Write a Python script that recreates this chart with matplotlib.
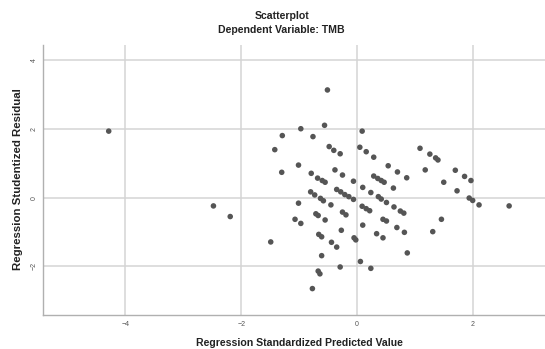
import matplotlib.pyplot as plt
import numpy as np

plt.rcParams['font.family'] = ['Liberation Sans', 'DejaVu Sans']

# standardized predicted value / studentized residual
pred = [
    -4.29, -2.48, -2.19, -1.49,
    -0.51, -0.56, -0.97, 0.09, -1.29, -0.76, -1.42, -0.48, -0.40, -0.29,
    0.05, 0.16, 0.29, 1.09, 1.26, 1.36, 1.40, 0.54, 0.70, 0.86, 1.18,
    1.70, 1.86, 1.97, 1.50, 1.73, 1.94, 2.00, 2.11, 2.63, 1.46, 1.31,
    -1.30, -1.01, -0.79, -0.68, -0.60, -0.55, -0.38, -0.25, -0.06, 0.10,
    0.29, 0.36, 0.42, 0.47, 0.63, 0.24, 0.37, 0.42, 0.51,
    -0.80, -0.73, -0.63, -0.58, -0.35, -0.28, -0.21, -0.14, -0.06,
    -1.01, -0.45, 0.09, 0.16, 0.22, 0.64, 0.75, 0.81,
    -0.71, -0.67, -0.25, -0.19, -0.55, -1.07, -0.97, 0.10, 0.45, 0.51,
    0.69, 0.82, 0.34, 0.45, 0.87, -0.27, -0.66, -0.61, -0.44, -0.35,
    -0.05, -0.02, -0.61, 0.06, -0.29, 0.24, -0.67, -0.64, -0.77,
]
resid = [
    1.94, -0.24, -0.55, -1.29,
    3.14, 2.11, 2.01, 1.94, 1.81, 1.78, 1.40, 1.49, 1.38, 1.28,
    1.47, 1.34, 1.18, 1.44, 1.27, 1.16, 1.10, 0.93, 0.75, 0.58, 0.81,
    0.80, 0.62, 0.50, 0.45, 0.20, -0.01, -0.08, -0.21, -0.24, -0.63, -0.99,
    0.74, 0.95, 0.71, 0.57, 0.50, 0.45, 0.81, 0.66, 0.48, 0.30,
    0.63, 0.56, 0.50, 0.45, 0.28, 0.15, 0.03, -0.04, -0.14,
    0.17, 0.08, -0.02, -0.09, 0.24, 0.17, 0.09, 0.03, -0.05,
    -0.16, -0.21, -0.25, -0.32, -0.38, -0.27, -0.39, -0.45,
    -0.47, -0.52, -0.42, -0.50, -0.65, -0.63, -0.75, -0.80, -0.63, -0.68,
    -0.87, -1.01, -1.05, -1.17, -1.61, -0.95, -1.07, -1.14, -1.30, -1.44,
    -1.17, -1.23, -1.69, -1.86, -2.02, -2.06, -2.14, -2.22, -2.65,
]

xticks = [-4, -2, 0, 2]
yticks = [-2, 0, 2, 4]

fig = plt.figure(figsize=(5.45, 3.49), dpi=100)
ax = fig.add_axes([0.0795, 0.0974, 0.9205, 0.7736])

ax.scatter(pred, resid, s=16, color='#555555', edgecolors='none', zorder=3)

ax.set_xlim(-5.42, 3.25)
ax.set_ylim(-3.42, 4.45)
ax.set_xticks(xticks)
ax.set_yticks(yticks)
ax.grid(True, color='#d4d4d4', linewidth=1.1)
ax.set_axisbelow(True)

for s in ['top', 'right']:
    ax.spines[s].set_visible(False)
for s in ['left', 'bottom']:
    ax.spines[s].set_color('#b0b0b0')
    ax.spines[s].set_linewidth(1.0)

ax.tick_params(axis='both', length=0, labelsize=5, labelcolor='#555555', pad=4)
for lab in ax.get_yticklabels():
    lab.set_rotation(90)
    lab.set_va('center')

fig.text(0.517, 0.953, 'Scatterplot', ha='center', va='center',
         fontsize=7.6, fontweight='bold', color='#222222')
fig.text(0.517, 0.915, 'Dependent Variable: TMB', ha='center', va='center',
         fontsize=7.6, fontweight='bold', color='#222222')
fig.text(0.033, 0.487, 'Regression Studentized Residual', rotation=90,
         ha='center', va='center', fontsize=8.2, fontweight='bold', color='#222222')
fig.text(0.549, 0.018, 'Regression Standardized Predicted Value', ha='center',
         va='center', fontsize=7.6, fontweight='bold', color='#222222')

fig.savefig('out.png', dpi=100)
